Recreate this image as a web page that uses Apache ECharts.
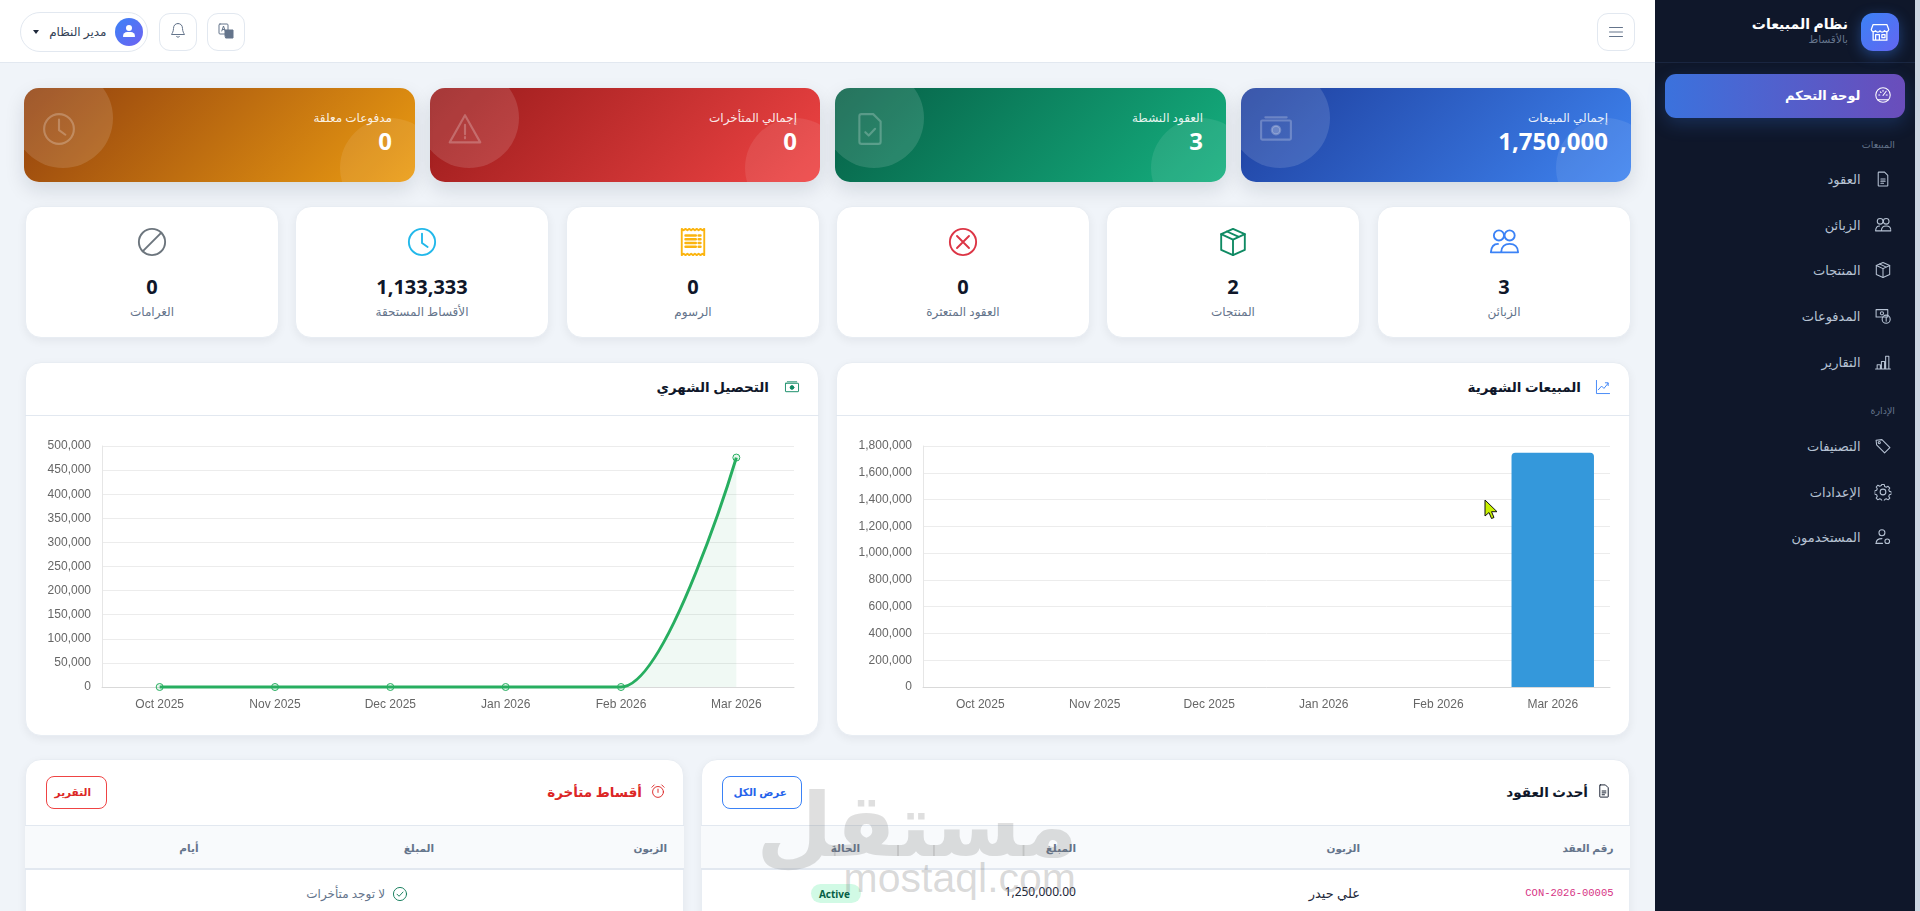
<!DOCTYPE html>
<html lang="ar"><head><meta charset="utf-8"><title>لوحة التحكم</title>
<script src="https://cdn.jsdelivr.net/npm/echarts@6/dist/echarts.min.js"></script>
<style>
*{box-sizing:border-box;margin:0;padding:0}
html,body{width:1920px;height:911px;overflow:hidden;background:#f0f4f9;font-family:"Noto Sans","DejaVu Sans",sans-serif}
#root{position:absolute;left:0;top:0;width:1920px;height:911px;overflow:hidden}
.box{position:absolute}
.t{position:absolute;white-space:nowrap;line-height:1;transform:translateY(-50%);direction:rtl}
.ic{position:absolute;transform:translate(-50%,-50%)}
.card{position:absolute;background:#fff;border:1px solid #e8edf3;border-radius:16px;box-shadow:0 3px 10px rgba(15,23,42,.06)}
</style></head><body><div id="root"></div>
<script>
// ---- chart data ----
const months=['Oct 2025','Nov 2025','Dec 2025','Jan 2026','Feb 2026','Mar 2026'];
const salesValues=[0,0,0,0,0,1750000];
const collectionValues=[0,0,0,0,0,476000];
const salesTitle='المبيعات الشهرية';
const collectionTitle='التحصيل الشهري';
// ---- dashboard text ----
const kpiLabels=['إجمالي المبيعات','العقود النشطة','إجمالي المتأخرات','مدفوعات معلقة'];
const kpiValues=['1,750,000','3','0','0'];
const statLabels=['الزبائن','المنتجات','العقود المتعثرة','الرسوم','الأقساط المستحقة','الغرامات'];
const statValues=['3','2','0','0','1,133,333','0'];
const navSales=['العقود','الزبائن','المنتجات','المدفوعات','التقارير'];
const navAdmin=['التصنيفات','الإعدادات','المستخدمون'];

const root=document.getElementById('root');
function B(x,y,w,h,css,cls){const d=document.createElement('div');d.className=cls||'box';d.style.cssText=`left:${x}px;top:${y}px;width:${w}px;height:${h}px;`+(css||'');root.appendChild(d);return d}
function T(s,right,cy,size,weight,color,extra){const d=document.createElement('div');d.className='t';d.textContent=s;d.style.cssText=`right:${1920-right}px;top:${cy}px;font-size:${size}px;font-weight:${weight};color:${color};`+(extra||'');root.appendChild(d);return d}
const P={
 speed:'<circle cx="8" cy="8" r="6.8"/><path d="M8 8.5l3-4M4 8h1M11 8h1M5.5 5l.7.7M8 3.5v1"/><path d="M3 12.5h10"/>',
 shop:'<path d="M2.5 2h11l1.5 4a2 2 0 0 1-3.5 1 2 2 0 0 1-3.500 0 2 2 0 0 1-3.500 0A2 2 0 0 1 1 6z"/><path d="M2.500 8v6.500h11V8M4.500 14V10h3v4M9.500 10h2.500v2.500H9.500z"/>',
 file:'<path d="M4 1.500h5.500l3 3V14a.5.5 0 0 1-.5.5H4a.5.5 0 0 1-.5-.5V2a.5.5 0 0 1 .5-.5z"/><path d="M6 8h4M6 10h4M6 12h2.500"/>',
 people:'<circle cx="5.300" cy="4.500" r="2.700"/><circle cx="11" cy="4.500" r="2.700"/><path d="M1 13.500c.2-2.700 1.500-4.500 3.800-4.500M6.500 13.500c0-3 2-4.500 4.500-4.500s4.500 1.500 4.500 4.500z M1 13.500h5"/>',
 box:'<path d="M8 1l6.300 2.800v8.400L8 15l-6.300-2.800V3.800z"/><path d="M1.700 3.800L8 6.700l6.300-2.900M8 6.700V15M4.800 2.400l6.300 2.900"/>',
 pay:'<rect x="1.500" y="2" width="11" height="7"/><circle cx="7" cy="5.500" r="1.500"/><circle cx="11" cy="11" r="3.800"/><path d="M11 9v4"/>',
 bars:'<path d="M1 14.500h14M2.500 14.500v-4h3v4M6.500 14.500v-7h3v7M10.500 14.500v-12h3v12"/>',
 tag:'<path d="M1.500 2.500l5.500-.5 7.500 7.500-5 5L2 7z"/><circle cx="4.500" cy="4.800" r="1"/>',
 gear:'<circle cx="8" cy="8" r="2.700"/><path d="M6.800 1.200h2.400l.4 1.900 1.500.7 1.700-1 1.600 1.700-1 1.600.6 1.500 1.800.4v2.400l-1.800.4-.6 1.500 1 1.600-1.600 1.700-1.700-1-1.500.7-.4 1.700H6.800l-.4-1.700-1.500-.7-1.700 1-1.600-1.700 1-1.600-.6-1.500-1.800-.4V7l1.800-.4.6-1.500-1-1.600 1.600-1.700 1.700 1 1.500-.7z" transform="translate(0 -.2) scale(1 1)"/>',
 usergear:'<circle cx="7" cy="4" r="2.800"/><path d="M1.500 14c0-3 2.500-4.500 5.500-4.500"/><path d="M1.500 14h6"/><circle cx="12" cy="12" r="2.200"/>',
 menu:'<path d="M1.500 3.500h13M1.500 8h13M1.500 12.500h13"/>',
 bell:'<path d="M8 1.500c-3 0-4.500 2.200-4.500 5 0 3-1.500 5-2 6h13c-.5-1-2-3-2-6 0-2.800-1.500-5-4.500-5z"/><path d="M6.500 14.500c.5 1 2.500 1 3 0"/>',
 clock:'<circle cx="8" cy="8" r="7"/><path d="M8 3.500V8.500l3 2.200"/>',
 ban:'<circle cx="8" cy="8" r="7"/><path d="M3 13L13 3"/>',
 xc:'<circle cx="8" cy="8" r="7"/><path d="M4.800 4.800l6.400 6.400M11.200 4.800l-6.400 6.400"/>',
 receipt:'<path d="M2 1l1 .7 1-.7 1 .7 1-.7 1 .7 1-.7 1 .7 1-.7 1 .7 1-.7 1 .7 1-.7v14l-1-.7-1 .7-1-.7-1 .7-1-.7-1 .7-1-.7-1 .7-1-.7-1 .7-1-.7-1 .7z"/><path d="M4 4.500h5.500M4 6.500h5.500M4 8.500h5.500M4 10.500h5.500M11 4.500h1M11 6.500h1M11 8.500h1M11 10.500h1" stroke-width="1.300"/>',
 cash:'<rect x="1" y="4" width="14" height="9" rx=".5"/><circle cx="8" cy="8.500" r="2" fill="currentColor"/><path d="M3 2.500h10"/>',
 fileok:'<path d="M4 1h5.500l3.500 3.500V14a1 1 0 0 1-1 1H4a1 1 0 0 1-1-1V2a1 1 0 0 1 1-1z"/><path d="M5.800 9.500l1.600 1.600 3-3.200"/>',
 warn:'<path d="M8 1.500l7.200 12.800H.8z"/><path d="M8 6v4.500M8 11.800v.6"/>',
 graph:'<path d="M1 1v14h14"/><path d="M3 11l3.500-4 2.500 2.500 4.500-5.500M10.500 3.500h3v3"/>',
 alarm:'<circle cx="8" cy="9" r="5.800"/><path d="M8 6v3.500M1.500 4L4 1.500M14.500 4L12 1.500"/>',
 check:'<circle cx="8" cy="8" r="7"/><path d="M4.800 8.200l2.200 2.200 4.200-4.500"/>',
 lang:'<rect x="1" y="1" width="9" height="10" rx="1"/><path d="M3.800 8l1.700-5 1.700 5M4.400 6.500h2.200"/><path d="M7 12.500V7h8v8H8z" fill="currentColor"/>'
};
function I(name,cx,cy,size,color,extra,sw){const d=document.createElement('div');d.className='ic';d.style.cssText=`left:${cx}px;top:${cy}px;width:${size}px;height:${size}px;color:${color};`+(extra||'');d.innerHTML=`<svg width="${size}" height="${size}" viewBox="0 0 16 16" fill="none" stroke="currentColor" stroke-width="${sw||1}" stroke-linejoin="round" stroke-linecap="round" style="display:block">${P[name]}</svg>`;root.appendChild(d);return d}

// sidebar
B(1655,0,260,911,'background:#0f172a');
B(1915,0,5,911,'background:#cdd6e1');
B(1655,62,260,1,'background:#1a2640');
B(1861,13,38,38,'border-radius:12px;background:linear-gradient(135deg,#3b82f6,#6366f1);box-shadow:0 4px 14px rgba(59,130,246,.4)');
I('shop',1880,32,20,'#fff');
T('نظام المبيعات',1848,24,14,700,'#fff');
T('بالأقساط',1848,39,10.5,400,'#64748b');
B(1665,74,240,44,'border-radius:11px;background:linear-gradient(90deg,#3b72dd,#6a4dbb);box-shadow:0 6px 18px rgba(59,130,246,.22)');
I('speed',1883,95,17,'#fff');
T('لوحة التحكم',1860.5,95,13,600,'#fff');
T('المبيعات',1895,145,9.5,500,'#64748b');
const navSalesY=[179,225,270,316,362],navSalesIc=['file','people','box','pay','bars'];
navSales.forEach((s,i)=>{I(navSalesIc[i],1883,navSalesY[i],17,'#b6c2d3');T(s,1860.5,navSalesY[i],13,500,'#b6c2d3')});
T('الإدارة',1895,411,9.5,500,'#64748b');
const navAdminY=[446,492,537],navAdminIc=['tag','gear','usergear'];
navAdmin.forEach((s,i)=>{I(navAdminIc[i],1883,navAdminY[i],17,'#b6c2d3');T(s,1860.5,navAdminY[i],13,500,'#b6c2d3')});

// top bar
B(0,0,1655,63,'background:#fff;border-bottom:1px solid #e2e8f0');
const btn='background:#fff;border:1px solid #e2e8f0;border-radius:11px';
B(1597,13,38,38,btn);I('menu',1616,32,16,'#64748b');
B(207,13,38,38,btn);I('lang',226,31,16,'#64748b');
B(159,13,38,38,btn);I('bell',178,30,16,'#64748b');
B(20,12,128,40,'background:#fff;border:1px solid #e2e8f0;border-radius:20px');
B(115,18,28,28,'border-radius:50%;background:linear-gradient(135deg,#3b82f6,#6f62f2)');
I('people',129,31,0,'#fff');
{const d=B(123,25,12,5.5,'border-radius:50%;background:#fff');d.style.width='6px';d.style.height='6px';d.style.left='126px';const e=B(123,32,12,5,'background:#fff;border-radius:5px 5px 1px 1px');}
T('مدير النظام',106.5,32,12,500,'#334155');
B(33,29.5,0,0,'border-left:3.500px solid transparent;border-right:3.500px solid transparent;border-top:4px solid #1e293b');

// gradient KPI cards
const kpiX=[1241,835,430,24],kpiW=[390,391,390,391];
const kpiGrad=[['#1e3f9e','#3f84f0'],['#065f46','#15b07f'],['#991b1b','#ef4444'],['#92400e','#eb9c12']];
const kpiIc=['cash','fileok','warn','clock'];
kpiX.forEach((x,i)=>{
 const c=B(x,88,kpiW[i],94,`border-radius:15px;overflow:hidden;background:linear-gradient(135deg,${kpiGrad[i][0]},${kpiGrad[i][1]});box-shadow:0 8px 20px rgba(15,23,42,.12)`);
 c.innerHTML='<div style="position:absolute;left:-11px;top:-20px;width:100px;height:100px;border-radius:50%;background:rgba(255,255,255,.13)"></div><div style="position:absolute;right:-25px;top:30px;width:100px;height:100px;border-radius:50%;background:rgba(255,255,255,.09)"></div>';
 I(kpiIc[i],x+35,129,34,'rgba(255,255,255,.24)','',1);
 const r=x+kpiW[i]-23;
 T(kpiLabels[i],r,118,12,500,'rgba(255,255,255,.9)');
 T(kpiValues[i],r,141,24,700,'#fff');
});

// stat cards
const statX=[1377,1106,836,566,295,25],statIc=['people','box','xc','receipt','clock','ban'],statCol=['#3b82f6','#0f8a63','#dc3545','#fbb40f','#22b8ea','#6c757d'];
statX.forEach((x,i)=>{
 B(x,206,254,132,'','card');
 I(statIc[i],x+127,242,30,statCol[i]);
 const d=T(statValues[i],x+127,287,20,700,'#0f172a','transform:translate(50%,-50%);');
 const e=T(statLabels[i],x+127,312,12,400,'#64748b','transform:translate(50%,-50%);');
});

// chart cards
[[25,794,collectionTitle,'cash','#0f8a63',792,769],[836,794,salesTitle,'graph','#3b82f6',1603,1581]].forEach(a=>{
 B(a[0],362,a[1],374,'','card');
 B(a[0],415,a[1],1,'background:#e2e8f0');
 I(a[3],a[5],387,15,a[4]);
 T(a[2],a[6],388,13.500,700,'#0f172a');
});
const divLine=B(25,416,794,319,'z-index:2');
const divBar=B(836,416,794,319,'z-index:2');

// bottom panels
const panelL=B(25,759,659,170,'','card');
const panelR=B(701,759,929,170,'','card');
B(25,825,659,45,'background:#f8fafc;border-top:1px solid #e2e8f0;border-bottom:2px solid #e2e8f0');
B(701,825,929,45,'background:#f8fafc;border-top:1px solid #e2e8f0;border-bottom:2px solid #e2e8f0');
B(45.500,776,61,33,'border:1px solid #ef4444;border-radius:8px');
T('التقرير',91,792,10.500,600,'#dc2626');
T('أقساط متأخرة',642,793,13.500,700,'#dc2626');
I('alarm',658,791,15,'#dc2626');
[['الزبون',667],['المبلغ',434],['أيام',198.500]].forEach(a=>T(a[0],a[1],848,10.500,600,'#64748b'));
T('لا توجد متأخرات',385,894,12,400,'#64748b');
I('check',400,894,15,'#0f7a58');
B(722,776,80,33,'border:1px solid #3b82f6;border-radius:8px');
T('عرض الكل',787,792,10.500,600,'#2563eb');
T('أحدث العقود',1588,793,13.500,700,'#0f172a');
I('file',1604,791,15,'#0f172a');
[['رقم العقد',1613.500],['الزبون',1360],['المبلغ',1076],['الحالة',860]].forEach(a=>T(a[0],a[1],848,10.500,600,'#64748b'));
T('CON-2026-00005',1613.500,893,10.500,400,'#d63384','font-family:\'Liberation Mono\',monospace;direction:ltr;');
T('علي حيدر',1360,893,13,400,'#1e293b');
T('1,250,000.00',1076,892,12,400,'#1e293b','direction:ltr;');
B(811,884,50,19,'background:#d1fae5;border-radius:10px');
T('Active',850,893.500,10,700,'#065f46','direction:ltr;');

// watermark
T('مستقل',1078,822,88,800,'rgba(110,110,110,.22)','z-index:5;');
T('mostaql.com',1076,878,41,400,'rgba(110,110,110,.26)','z-index:5;direction:ltr;font-family:"Liberation Sans",sans-serif;');

// cursor
const cur=document.createElement('div');
cur.style.cssText='position:absolute;left:1484px;top:499px;z-index:9';
cur.innerHTML='<svg width="14" height="21" viewBox="0 0 14 21"><path d="M1 1v16l4-3.500 2.500 6 2.500-1-2.500-5.800H13z" fill="#c8f000" stroke="#111" stroke-width="1"/></svg>';
root.appendChild(cur);

// charts
const fontF='"Liberation Sans",Arial,sans-serif';
function baseAxes(max,interval){return {
 xAxis:{type:'category',data:months,boundaryGap:true,axisLine:{show:true,lineStyle:{color:'#d9d9d9',width:1}},axisTick:{show:false},splitLine:{show:false},axisLabel:{color:'#666',fontSize:12,fontFamily:fontF,margin:12,interval:0}},
 yAxis:{type:'value',min:0,max:max,interval:interval,axisLine:{show:true,lineStyle:{color:'#e6e6e6',width:1}},axisTick:{show:false},splitLine:{show:true,lineStyle:{color:'#ececec',width:1}},axisLabel:{color:'#666',fontSize:12,fontFamily:fontF,margin:11,formatter:v=>v.toLocaleString('en-US')}}
}}
const lineChart=echarts.init(divLine,null,{renderer:'canvas'});
lineChart.setOption(Object.assign({animation:false,grid:{left:77,right:25,top:30,bottom:48},
 series:[{type:'line',data:collectionValues,smooth:0.4,smoothMonotone:'x',clip:false,showAllSymbol:true,symbol:'circle',symbolSize:7,
  lineStyle:{color:'#27ae60',width:3},itemStyle:{color:'rgba(39,174,96,.1)',borderColor:'#27ae60',borderWidth:1},areaStyle:{color:'rgba(39,174,96,.1)'}}]},baseAxes(500000,50000)));
const barChart=echarts.init(divBar,null,{renderer:'canvas'});
barChart.setOption(Object.assign({animation:false,grid:{left:87,right:20,top:30,bottom:48},
 series:[{type:'bar',data:salesValues,barWidth:'72%',itemStyle:{color:'#3498db',borderRadius:[4,4,0,0]}}]},baseAxes(1800000,200000)));
</script></body></html>
